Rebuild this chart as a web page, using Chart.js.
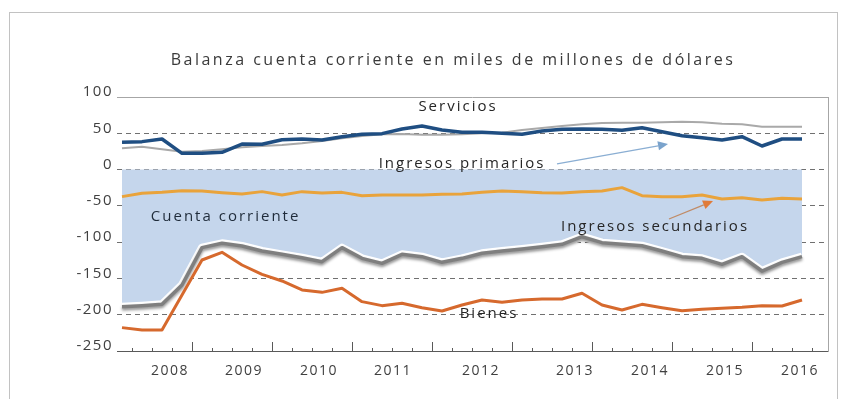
<!DOCTYPE html>
<html>
<head>
<meta charset="utf-8">
<script src="https://cdn.jsdelivr.net/npm/chart.js"></script>
<style>
  body { margin: 0; background: #fff; }
  #frame { position: absolute; left: 9px; top: 12px; width: 827px; height: 420px; border: 1px solid #c2c2c2; }
  #chart { position: absolute; left: 0; top: 0; }
</style>
</head>
<body>
<div id="frame"></div>
<canvas id="chart" width="841" height="399"></canvas>
<script>
// quarterly, miles de millones de dólares
const quarters = [
  '2008T1', '2008T2', '2008T3', '2008T4',
  '2009T1', '2009T2', '2009T3', '2009T4',
  '2010T1', '2010T2', '2010T3', '2010T4',
  '2011T1', '2011T2', '2011T3', '2011T4',
  '2012T1', '2012T2', '2012T3', '2012T4',
  '2013T1', '2013T2', '2013T3', '2013T4',
  '2014T1', '2014T2', '2014T3', '2014T4',
  '2015T1', '2015T2', '2015T3', '2015T4',
  '2016T1', '2016T2', '2016T3'
];

const ingresosPrimarios = [37.5, 38.5, 42.1, 22.4, 22.4, 23.8, 35.2, 34.8, 41.2, 42.1,
  40.8, 45.3, 48.6, 49.5, 55.9, 60.0, 54.5, 51.3, 51.3, 50.0, 48.6, 53.2, 55.5, 55.9,
  55.5, 54.1, 57.7, 52.2, 46.7, 44.0, 40.8, 45.3, 32.5, 42.1, 42.1];

const servicios = [29.3, 31.6, 27.9, 24.7, 25.6, 27.9, 30.6, 32.5, 33.9, 36.2,
  39.4, 43.0, 46.3, 48.5, 49.0, 48.1, 48.1, 48.5, 49.9, 50.9, 54.5, 57.3, 60.0, 62.3,
  64.2, 64.6, 64.6, 65.1, 66.0, 65.1, 63.3, 62.3, 59.1, 59.1, 59.1];

const ingresosSecundarios = [-37.3, -32.7, -31.4, -29.1, -29.5, -31.8, -33.7, -30.4, -35.0, -30.4,
  -32.3, -31.4, -36.0, -35.0, -35.0, -35.0, -34.1, -33.7, -31.4, -29.5, -30.4, -31.8, -32.3, -30.4,
  -29.5, -24.9, -36.0, -37.3, -37.3, -35.0, -40.5, -38.7, -41.9, -39.6, -40.5];

const bienes = [-217.8, -221.1, -221.1, -172.8, -124.6, -114.0, -131.5, -144.4, -153.5, -165.9,
  -169.2, -163.6, -182.0, -187.5, -184.3, -190.3, -194.9, -186.6, -179.7, -182.9, -179.7, -178.3,
  -178.3, -170.5, -186.6, -193.5, -185.7, -190.3, -194.4, -192.6, -191.2, -189.8, -187.5, -188.0, -179.7];

const cuentaCorriente = [-188.9, -187.5, -185.7, -159.0, -107.6, -101.6, -105.3, -112.2, -116.8, -121.4,
  -126.9, -107.6, -122.3, -129.2, -116.8, -120.0, -127.8, -122.3, -115.4, -112.2, -109.4, -106.2,
  -103.0, -92.5, -100.7, -103.0, -104.9, -112.2, -120.0, -122.3, -130.6, -120.0, -139.8, -127.8, -120.0];

// year labels sit on the quarter axis (0 = 2008T1)
const yearLabels = ['2008', '2009', '2010', '2011', '2012', '2013', '2014', '2015', '2016'];
const yearTicks = [2.4, 6.1, 9.85, 13.55, 17.95, 22.65, 26.4, 30.15, 33.9];

const pts = arr => arr.map((v, i) => ({ x: i, y: v }));

// small tick marks on the category axis, bigger one at each year boundary
const quarterTicks = {
  id: 'quarterTicks',
  afterDatasetsDraw(chart) {
    const { ctx, chartArea, scales: { x } } = chart;
    ctx.save();
    ctx.strokeStyle = '#595959';
    ctx.lineWidth = 1;
    for (let k = 0; k < quarters.length; k++) {
      const px = Math.round(x.getPixelForValue(k + 0.5)) + 0.5;
      const len = k % 4 === 3 ? 9 : 3;
      ctx.beginPath();
      ctx.moveTo(px, chartArea.bottom);
      ctx.lineTo(px, chartArea.bottom - len);
      ctx.stroke();
    }
    ctx.restore();
  }
};

// drop shadow under the current-account line
const lineShadow = {
  id: 'lineShadow',
  beforeDatasetDraw(chart, args) {
    if (!chart.data.datasets[args.index].shadow) return;
    const ctx = chart.ctx;
    ctx.save();
    ctx.shadowColor = 'rgba(0,0,0,0.45)';
    ctx.shadowBlur = 3;
    ctx.shadowOffsetY = 2;
  },
  afterDatasetDraw(chart, args) {
    if (chart.data.datasets[args.index].shadow) chart.ctx.restore();
  }
};

function arrow(ctx, x1, y1, x2, y2, lineColor, headColor) {
  const ang = Math.atan2(y2 - y1, x2 - x1);
  const hl = 10, hw = 4.5;
  const bx = x2 - hl * Math.cos(ang), by = y2 - hl * Math.sin(ang);
  ctx.strokeStyle = lineColor;
  ctx.lineWidth = 1.3;
  ctx.beginPath();
  ctx.moveTo(x1, y1);
  ctx.lineTo(bx, by);
  ctx.stroke();
  ctx.fillStyle = headColor;
  ctx.beginPath();
  ctx.moveTo(x2, y2);
  ctx.lineTo(bx + hw * Math.sin(ang), by - hw * Math.cos(ang));
  ctx.lineTo(bx - hw * Math.sin(ang), by + hw * Math.cos(ang));
  ctx.closePath();
  ctx.fill();
}

// title, series names and pointer arrows
const notes = {
  id: 'notes',
  beforeDraw(chart) {
    chart.ctx.letterSpacing = '1.5px';
  },
  afterDraw(chart) {
    const { ctx, scales: { x, y } } = chart;
    const px = v => x.getPixelForValue(v);
    const py = v => y.getPixelForValue(v);
    ctx.save();
    ctx.textAlign = 'center';
    ctx.textBaseline = 'alphabetic';

    ctx.letterSpacing = '2.5px';
    ctx.font = '16px "Open Sans"';
    ctx.fillStyle = '#3a3a3a';
    ctx.fillText('Balanza cuenta corriente en miles de millones de dólares', 453, 65);

    ctx.letterSpacing = '2px';
    ctx.font = '15px "Open Sans"';
    ctx.fillStyle = '#262626';
    ctx.fillText('Servicios', px(16.8), py(80.7));
    ctx.fillText('Ingresos primarios', px(17.0), py(2.2));
    ctx.fillText('Ingresos secundarios', px(26.65), py(-84.7));
    ctx.fillText('Bienes', px(18.35), py(-205.2));
    ctx.fillStyle = '#1f2b3a';
    ctx.fillText('Cuenta corriente', px(5.18), py(-70.2));

    arrow(ctx, px(21.75), py(7.7), px(27.3), py(35.2), '#8aaed3', '#7aa3cc');
    arrow(ctx, px(27.35), py(-68.1), px(29.55), py(-43.3), '#c08b66', '#e07b39');
    ctx.restore();
  }
};

Chart.defaults.font.family = '"Open Sans", sans-serif';

new Chart('chart', {
  type: 'line',
  data: {
    datasets: [
      { label: 'Ingresos primarios', data: pts(ingresosPrimarios), borderColor: '#1f4e82', borderWidth: 3.5, order: 0 },
      { label: 'Servicios', data: pts(servicios), borderColor: '#a9a9a9', borderWidth: 2, order: 1 },
      { label: 'Ingresos secundarios', data: pts(ingresosSecundarios), borderColor: '#e9a33b', borderWidth: 3, order: 2 },
      { label: 'Bienes', data: pts(bienes), borderColor: '#d6692d', borderWidth: 3, order: 3 },
      { label: 'Cuenta corriente', data: pts(cuentaCorriente), borderColor: '#7f7f7f', borderWidth: 3.5, shadow: true, order: 4 },
      { label: 'Cuenta corriente', data: pts(cuentaCorriente), borderColor: '#ffffff', borderWidth: 8,
        backgroundColor: '#c5d6ec', fill: 'origin', order: 5 }
    ]
  },
  options: {
    responsive: false,
    animation: false,
    devicePixelRatio: 1,
    elements: { point: { radius: 0 }, line: { tension: 0, borderJoinStyle: 'round' } },
    layout: { padding: { top: 97, right: 13, bottom: 0, left: 0 } },
    plugins: { legend: { display: false }, tooltip: { enabled: false }, title: { display: false } },
    scales: {
      x: {
        type: 'linear',
        min: -0.25,
        max: 35.3,
        grid: { display: false, drawTicks: false },
        border: { display: true, color: '#595959', width: 1 },
        afterBuildTicks: s => { s.ticks = yearTicks.map(v => ({ value: v })); },
        afterFit: s => { s.height = 48; },
        ticks: {
          autoSkip: false,
          maxRotation: 0,
          padding: 12,
          color: '#404040',
          font: { size: 14 },
          callback: (v, i) => yearLabels[i]
        }
      },
      y: {
        min: -250,
        max: 100,
        afterFit: s => { s.width = 117; },
        grid: {
          drawTicks: false,
          lineWidth: 1,
          color: c => c.tick.value === 100 ? '#a6a6a6' : (c.tick.value === -250 ? 'rgba(0,0,0,0)' : '#707070')
        },
        border: { display: false, dash: c => c.tick.value === 100 ? [] : [5, 4] },
        ticks: { stepSize: 50, padding: 4, labelOffset: -5, color: '#404040', font: { size: 15 } }
      },
      y2: {
        position: 'right',
        min: -250,
        max: 100,
        afterFit: s => { s.width = 0; },
        grid: { display: false, drawTicks: false },
        border: { display: true, color: '#a6a6a6' },
        ticks: { display: false }
      }
    }
  },
  plugins: [quarterTicks, lineShadow, notes]
});
</script>
</body>
</html>
